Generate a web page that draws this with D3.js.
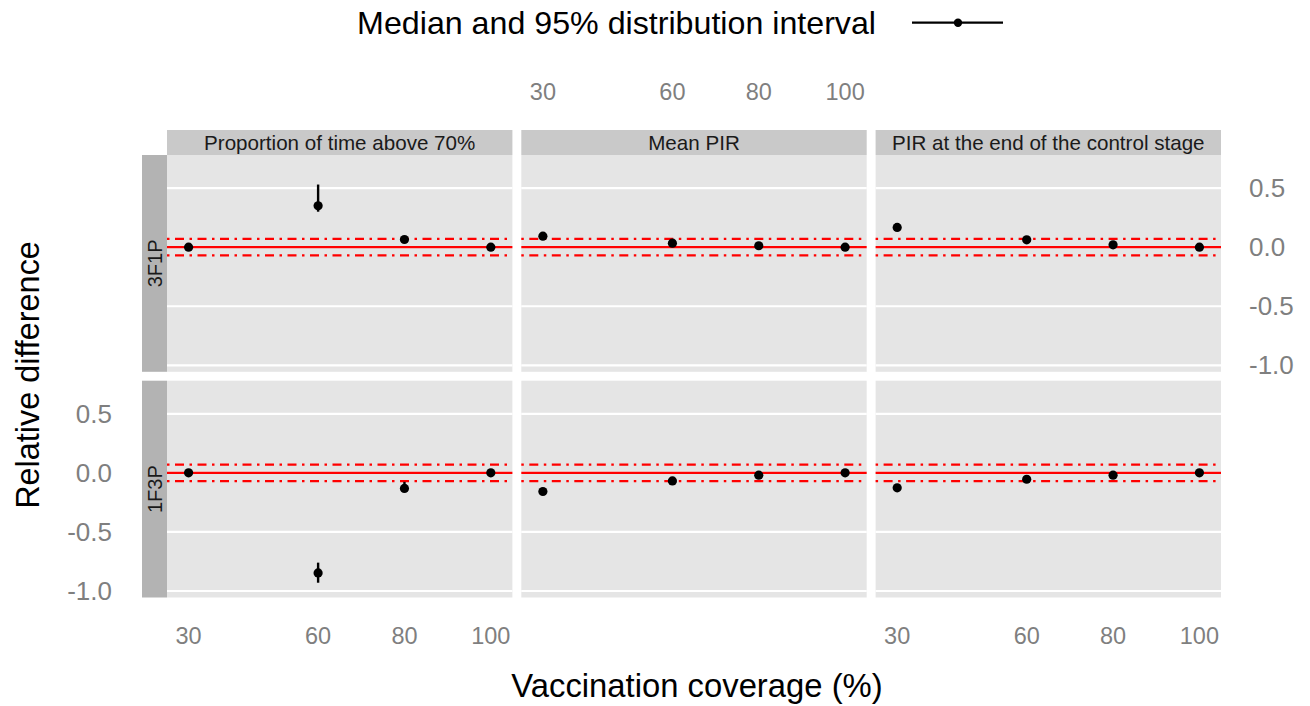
<!DOCTYPE html>
<html>
<head>
<meta charset="utf-8">
<script src="https://cdn.jsdelivr.net/npm/d3@7"></script>
<style>
  body { margin: 0; background: #fff; }
  text { font-family: "Liberation Sans", Arial, sans-serif; }
</style>
</head>
<body>
<svg id="chart" width="1310" height="706"></svg>
<script>
// facet labels
const measures = ["Proportion of time above 70%", "Mean PIR", "PIR at the end of the control stage"];
const scenarios = ["3F1P", "1F3P"];
const coverage = [30, 60, 80, 100];
const yTicks = [0.5, 0.0, -0.5, -1.0];

// medians, one array per scenario x measure (order follows coverage)
const median3F1P = [
  [0.0, 0.35, 0.065, 0.0],
  [0.093, 0.034, 0.012, 0.0],
  [0.167, 0.062, 0.02, 0.0]
];
const lower3F1P = [
  [0.0, 0.30, 0.06, 0.0],
  [0.09, 0.03, 0.01, 0.0],
  [0.165, 0.06, 0.018, 0.0]
];
const upper3F1P = [
  [0.0, 0.53, 0.07, 0.0],
  [0.096, 0.037, 0.014, 0.0],
  [0.17, 0.064, 0.022, 0.0]
];
const median1F3P = [
  [0.0, -0.847, -0.132, 0.0],
  [-0.158, -0.068, -0.02, 0.0],
  [-0.127, -0.054, -0.02, 0.0]
];
const lower1F3P = [
  [0.0, -0.93, -0.14, 0.0],
  [-0.16, -0.07, -0.022, 0.0],
  [-0.13, -0.056, -0.022, 0.0]
];
const upper1F3P = [
  [0.0, -0.76, -0.076, 0.0],
  [-0.155, -0.066, -0.018, 0.0],
  [-0.124, -0.052, -0.018, 0.0]
];

// reference lines: perfect agreement and tolerance band
const refLine = 0;
const tolerance = [-0.07, 0.07];

const rows = [
  {name: scenarios[0], med: median3F1P, lo: lower3F1P, hi: upper3F1P},
  {name: scenarios[1], med: median1F3P, lo: lower1F3P, hi: upper1F3P}
];

const svg = d3.select("#chart");

const panelW = 345.4, panelGap = 8.9;
const panelH = 216.8;
const rowTop = [155, 380.7];
const panelLeft = 167;
const stripH = 25, stripW = 25;

const x = d3.scaleLinear().domain([25, 105]).range([0, panelW]);
const y = d3.scaleLinear().domain([-1.055, 0.78]).range([panelH, 0]);

// legend
svg.append("text")
  .attr("x", 876).attr("y", 34)
  .attr("text-anchor", "end")
  .attr("font-size", 32.2)
  .attr("fill", "#000")
  .text("Median and 95% distribution interval");
svg.append("line")
  .attr("x1", 912).attr("x2", 1003).attr("y1", 22.7).attr("y2", 22.7)
  .attr("stroke", "#000").attr("stroke-width", 2.2);
svg.append("circle")
  .attr("cx", 958).attr("cy", 22.7).attr("r", 4.2).attr("fill", "#000");

rows.forEach((row, ri) => {
  const top = rowTop[ri];

  // row strip
  svg.append("rect")
    .attr("x", panelLeft - stripW).attr("y", top)
    .attr("width", stripW).attr("height", panelH)
    .attr("fill", "#b3b3b3");
  svg.append("text")
    .attr("transform", `translate(${panelLeft - stripW / 2 + 7},${top + panelH / 2}) rotate(-90)`)
    .attr("text-anchor", "middle")
    .attr("font-size", 20)
    .attr("fill", "#1a1a1a")
    .text(row.name);

  measures.forEach((m, mi) => {
    const left = panelLeft + mi * (panelW + panelGap);
    const g = svg.append("g").attr("transform", `translate(${left},${top})`);

    g.append("rect")
      .attr("width", panelW).attr("height", panelH)
      .attr("fill", "#e5e5e5");

    g.selectAll("line.grid")
      .data(yTicks)
      .enter()
      .append("line")
      .attr("class", "grid")
      .attr("x1", 0).attr("x2", panelW)
      .attr("y1", d => y(d)).attr("y2", d => y(d))
      .attr("stroke", "#fff").attr("stroke-width", 2.2);

    g.append("line")
      .attr("x1", 0).attr("x2", panelW)
      .attr("y1", y(refLine)).attr("y2", y(refLine))
      .attr("stroke", "#ff0000").attr("stroke-width", 2.2);

    g.selectAll("line.tol")
      .data(tolerance)
      .enter()
      .append("line")
      .attr("class", "tol")
      .attr("x1", 0).attr("x2", panelW)
      .attr("y1", d => y(d)).attr("y2", d => y(d))
      .attr("stroke", "#ff0000").attr("stroke-width", 2.2)
      .attr("stroke-dasharray", "2.5,5.5,9,5.5");

    const pts = coverage.map((c, i) => ({
      c: c, med: row.med[mi][i], lo: row.lo[mi][i], hi: row.hi[mi][i]
    }));

    g.selectAll("line.bar")
      .data(pts)
      .enter()
      .append("line")
      .attr("class", "bar")
      .attr("x1", d => x(d.c)).attr("x2", d => x(d.c))
      .attr("y1", d => y(d.lo)).attr("y2", d => y(d.hi))
      .attr("stroke", "#000").attr("stroke-width", 2.4);

    g.selectAll("circle.pt")
      .data(pts)
      .enter()
      .append("circle")
      .attr("class", "pt")
      .attr("cx", d => x(d.c)).attr("cy", d => y(d.med))
      .attr("r", 4.6)
      .attr("fill", "#000");

    // column strips only on top row
    if (ri === 0) {
      svg.append("rect")
        .attr("x", left).attr("y", top - stripH)
        .attr("width", panelW).attr("height", stripH)
        .attr("fill", "#c9c9c9");
      svg.append("text")
        .attr("x", left + panelW / 2).attr("y", top - stripH / 2 + 7)
        .attr("text-anchor", "middle")
        .attr("font-size", 20.6)
        .attr("fill", "#1a1a1a")
        .text(m);
    }

    // top axis only over the middle column, bottom axis under the outer ones
    if (ri === 0 && mi === 1) {
      svg.append("g")
        .attr("transform", `translate(${left},0)`)
        .selectAll("text")
        .data(coverage)
        .enter()
        .append("text")
        .attr("x", d => x(d)).attr("y", 100)
        .attr("text-anchor", "middle")
        .attr("font-size", 23.5)
        .attr("fill", "#7f7f7f")
        .text(d => d);
    }
    if (ri === 1 && mi !== 1) {
      svg.append("g")
        .attr("transform", `translate(${left},0)`)
        .selectAll("text")
        .data(coverage)
        .enter()
        .append("text")
        .attr("x", d => x(d)).attr("y", 644)
        .attr("text-anchor", "middle")
        .attr("font-size", 23.5)
        .attr("fill", "#7f7f7f")
        .text(d => d);
    }
  });

  // y axis: right side for top row, left side for bottom row
  const yText = svg.append("g")
    .attr("transform", `translate(0,${top})`)
    .selectAll("text")
    .data(yTicks)
    .enter()
    .append("text")
    .attr("y", d => y(d) + 9)
    .attr("font-size", 26)
    .attr("fill", "#7f7f7f")
    .text(d => d3.format(".1f")(d).replace("−", "-"));
  if (ri === 0) {
    yText.attr("x", 1249).attr("text-anchor", "start");
  } else {
    yText.attr("x", 112).attr("text-anchor", "end");
  }
});

// axis titles
svg.append("text")
  .attr("transform", "translate(39,375) rotate(-90)")
  .attr("text-anchor", "middle")
  .attr("font-size", 32.4)
  .attr("fill", "#000")
  .text("Relative difference");
svg.append("text")
  .attr("x", 697).attr("y", 697)
  .attr("text-anchor", "middle")
  .attr("font-size", 32.8)
  .attr("fill", "#000")
  .text("Vaccination coverage (%)");
</script>
</body>
</html>
